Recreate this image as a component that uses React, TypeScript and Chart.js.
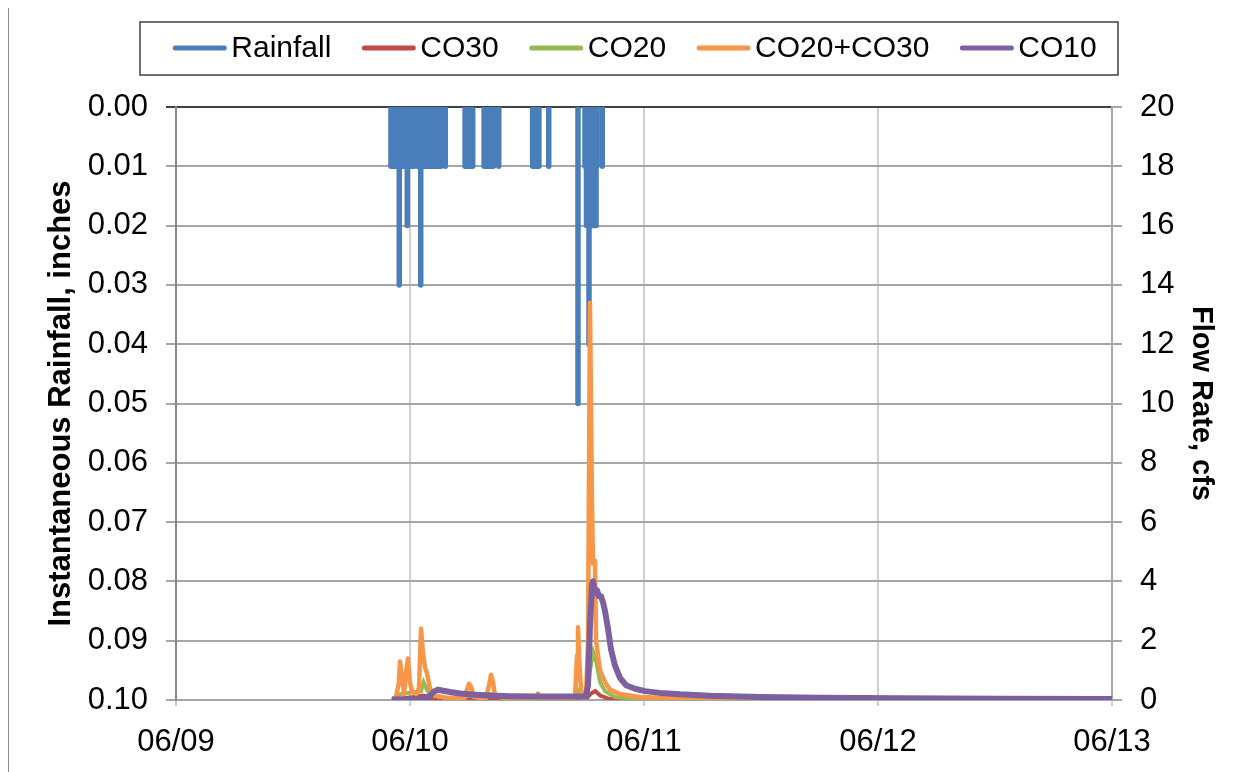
import React, { useEffect, useRef } from "react";
import { Chart, registerables } from "chart.js";

Chart.register(...registerables);

// Day tick labels, one per 24 h on the time axis (hours since 06/09 00:00)
const dayLabels = ["06/09", "06/10", "06/11", "06/12", "06/13"];

// Rain gauge readings: time (h) and depth (in)
const rainHours = [
  22.05, 22.25, 22.45, 22.65, 22.9, 23.05, 23.25, 23.45, 23.6, 23.72, 23.9, 24.1, 24.25, 24.4,
  24.75, 24.95, 25.1, 25.3, 25.5, 25.7, 25.9, 26.1, 26.3, 26.5, 26.7, 26.9, 27.05, 27.18,
  27.62,
  29.65, 29.85, 30.05, 30.25, 30.43,
  31.6, 31.8, 32.0, 32.2, 32.4, 32.55,
  33.1,
  36.58, 36.8, 37.0, 37.22,
  38.23,
  41.23,
  41.95, 42.1, 42.25, 42.36, 42.5, 42.65, 42.8, 42.95, 43.08, 43.15,
  43.72,
];
const rainInches = [
  0.01, 0.01, 0.01, 0.01, 0.03, 0.01, 0.01, 0.01, 0.01, 0.02, 0.01, 0.01, 0.01, 0.01,
  0.01, 0.01, 0.03, 0.01, 0.01, 0.01, 0.01, 0.01, 0.01, 0.01, 0.01, 0.01, 0.01, 0.01,
  0.01,
  0.01, 0.01, 0.01, 0.01, 0.01,
  0.01, 0.01, 0.01, 0.01, 0.01, 0.01,
  0.01,
  0.01, 0.01, 0.01, 0.01,
  0.01,
  0.05,
  0.01, 0.02, 0.02, 0.04, 0.02, 0.02, 0.02, 0.02, 0.02, 0.01,
  0.01,
];

// Outfall flows (cfs)
const co30Hours = [22.15, 25.4, 26.5, 42.0, 42.5, 43.0, 43.5, 44.5, 96];
const co30Flow = [0, 0.15, 0.03, 0, 0.2, 0.3, 0.15, 0.03, 0];

const co20Hours = [22.15, 23.0, 25.13, 25.4, 25.8, 26.5, 28.0, 30.0, 32.3, 34.0, 40.9, 41.2, 41.5, 42.0, 42.46, 42.8, 43.1, 43.5, 44.0, 45.0, 48.0, 96];
const co20Flow = [0, 0.2, 0.3, 0.6, 0.3, 0.15, 0.05, 0.15, 0.2, 0.02, 0.02, 0.3, 0.05, 0.05, 1.0, 1.6, 1.3, 0.6, 0.3, 0.1, 0.03, 0];

const co2030Hours = [
  22.15, 22.56, 22.87, 22.97, 23.18, 23.38, 23.59, 23.79, 24.0, 24.21,
  24.62, 24.92, 25.13, 25.33, 25.54, 25.74, 26.05, 26.46, 27.59, 29.64,
  29.85, 30.05, 30.26, 30.56, 31.79, 32.1, 32.31, 32.51, 32.72, 34.26,
  36.92, 37.13, 37.33, 39.38, 40.92, 41.13, 41.23, 41.44, 41.64, 42.05,
  42.26, 42.46, 42.67, 42.77, 42.97, 43.08, 43.49, 44.0, 44.51, 45.54,
  47.59, 50.67, 54.36, 96,
];
const co2030Flow = [
  0, 0.1, 0.6, 1.3, 0.8, 0.2, 0.9, 1.4, 0.6, 0.3,
  0.2, 0.4, 2.4, 1.6, 1.1, 0.9, 0.4, 0.15, 0.08, 0.08,
  0.35, 0.55, 0.45, 0.1, 0.05, 0.5, 0.85, 0.6, 0.15, 0.02,
  0.05, 0.22, 0.05, 0.03, 0.05, 1.5, 2.45, 0.8, 0.1, 0.15,
  2.0, 13.4, 6.5, 4.6, 4.7, 2.0, 1.0, 0.6, 0.35, 0.2,
  0.1, 0.07, 0.05, 0,
];

const co10Hours = [
  22.15, 25.54, 26.05, 26.46, 26.87, 27.28, 28.1, 29.13, 30.67, 32.2,
  34.26, 37.33, 40.41, 42.05, 42.26, 42.46, 42.67, 42.77, 42.97, 43.18,
  43.38, 43.59, 43.79, 44.0, 44.31, 44.62, 45.03, 45.54, 46.15, 47.08,
  48.1, 49.64, 51.69, 54.77, 59.9, 66.05, 74.26, 84.5, 96,
];
const co10Flow = [
  0.02, 0.03, 0.15, 0.28, 0.35, 0.32, 0.27, 0.22, 0.18, 0.15,
  0.13, 0.12, 0.12, 0.12, 0.5, 2.5, 3.9, 4.0, 3.6, 3.7,
  3.5, 3.5, 3.3, 3.0, 2.4, 1.7, 1.15, 0.75, 0.5, 0.38,
  0.3, 0.24, 0.19, 0.14, 0.1, 0.08, 0.06, 0.04, 0.03,
];

const FONT = "'Liberation Sans', Arial, sans-serif";

const pairs = (xs: number[], ys: number[]) => xs.map((x, i) => ({ x, y: ys[i] }));

// Each rain reading is drawn as a drop from the 0.00 line down to its depth
const rainSpikes = () => {
  const pts: { x: number; y: number | null }[] = [];
  rainHours.forEach((h, i) => {
    pts.push({ x: h, y: 0 }, { x: h, y: rainInches[i] }, { x: h, y: 0 }, { x: h, y: null });
  });
  return pts;
};

// Boxed legend row above the plot
const boxedLegend = {
  id: "boxedLegend",
  afterDraw(chart: any) {
    const ctx = chart.ctx;
    const box = { left: 132, right: 1110, top: 14, bottom: 67 };
    const cy = 40;
    const lineLen = 53;
    const textGap = 5;
    const itemGap = 31;
    ctx.save();
    ctx.font = `30px ${FONT}`;
    const items = chart.data.datasets.map((ds: any) => ({
      label: ds.label,
      color: ds.borderColor,
      w: ctx.measureText(ds.label).width,
    }));
    const total =
      items.reduce((s: number, it: any) => s + lineLen + textGap + it.w, 0) + itemGap * (items.length - 1);
    ctx.fillStyle = "#fff";
    ctx.fillRect(box.left, box.top, box.right - box.left, box.bottom - box.top);
    ctx.strokeStyle = "#404040";
    ctx.lineWidth = 1.5;
    ctx.strokeRect(box.left, box.top, box.right - box.left, box.bottom - box.top);
    let x = (box.left + box.right) / 2 + 6 - total / 2;
    items.forEach((it: any) => {
      ctx.strokeStyle = it.color;
      ctx.lineWidth = 5;
      ctx.lineCap = "round";
      ctx.beginPath();
      ctx.moveTo(x + 2, cy);
      ctx.lineTo(x + lineLen - 2, cy);
      ctx.stroke();
      ctx.fillStyle = "#000";
      ctx.textBaseline = "middle";
      ctx.textAlign = "left";
      ctx.fillText(it.label, x + lineLen + textGap, cy + 1);
      x += lineLen + textGap + it.w + itemGap;
    });
    ctx.restore();
  },
};

// Left edge of the chart frame
const frame = {
  id: "frame",
  afterDraw(chart: any) {
    const ctx = chart.ctx;
    ctx.save();
    ctx.strokeStyle = "#8c8c8c";
    ctx.lineWidth = 1;
    ctx.beginPath();
    ctx.moveTo(0.5, 0);
    ctx.lineTo(0.5, chart.height);
    ctx.stroke();
    ctx.restore();
  },
};

export default function App() {
  const ref = useRef<HTMLCanvasElement>(null);

  useEffect(() => {
    if (!ref.current) return;
    const chart = new Chart(ref.current, {
      type: "line",
      data: {
        datasets: [
          {
            label: "Rainfall",
            data: rainSpikes(),
            yAxisID: "y",
            borderColor: "#4a7ebb",
            borderWidth: 5.5,
            borderJoinStyle: "round",
            borderCapStyle: "round",
            pointRadius: 0,
            spanGaps: false,
            order: 4,
          },
          {
            label: "CO30",
            data: pairs(co30Hours, co30Flow),
            yAxisID: "y1",
            borderColor: "#be4b48",
            borderWidth: 4,
            pointRadius: 0,
            order: 3,
          },
          {
            label: "CO20",
            data: pairs(co20Hours, co20Flow),
            yAxisID: "y1",
            borderColor: "#98b954",
            borderWidth: 4,
            pointRadius: 0,
            order: 2,
          },
          {
            label: "CO20+CO30",
            data: pairs(co2030Hours, co2030Flow),
            yAxisID: "y1",
            borderColor: "#f79646",
            borderWidth: 4.5,
            borderJoinStyle: "round",
            pointRadius: 0,
            order: 1,
          },
          {
            label: "CO10",
            data: pairs(co10Hours, co10Flow),
            yAxisID: "y1",
            borderColor: "#7d60a0",
            borderWidth: 6,
            borderJoinStyle: "round",
            pointRadius: 0,
            order: 0,
          },
        ],
      },
      options: {
        animation: false,
        responsive: false,
        layout: { padding: { top: 99, left: 0, right: 0, bottom: 0 } },
        plugins: {
          legend: { display: false },
          tooltip: { enabled: false },
        },
        scales: {
          x: {
            type: "linear",
            min: 0,
            max: 96,
            afterFit: (s: any) => {
              s.height = 72;
            },
            ticks: {
              stepSize: 24,
              color: "#000",
              font: { family: FONT, size: 31 },
              padding: 18,
              maxRotation: 0,
              callback: (v: any) => dayLabels[Math.round(Number(v) / 24)],
            },
            grid: { color: "#d0d0d0", lineWidth: 2, tickLength: 6 },
            border: { color: "#a6a6a6", width: 2 },
          },
          y: {
            position: "left",
            reverse: true,
            min: 0,
            max: 0.1,
            afterFit: (s: any) => {
              s.width = 168;
            },
            ticks: {
              stepSize: 0.01,
              color: "#000",
              font: { family: FONT, size: 31 },
              padding: 18,
              callback: (v: any) => Number(v).toFixed(2),
            },
            grid: {
              color: (c: any) => (c.tick && c.tick.value === 0 ? "#404040" : "#a6a6a6"),
              lineWidth: 2,
              tickLength: 10,
            },
            border: { color: "#868686", width: 2 },
            title: {
              display: true,
              text: "Instantaneous Rainfall, inches",
              color: "#000",
              font: { family: FONT, size: 31, weight: "bold" },
              padding: { top: 35, bottom: 0 },
            },
          },
          y1: {
            position: "right",
            min: 0,
            max: 20,
            afterFit: (s: any) => {
              s.width = 129;
            },
            ticks: {
              stepSize: 2,
              color: "#000",
              font: { family: FONT, size: 31 },
              padding: 18,
            },
            grid: { drawOnChartArea: false, color: "#a6a6a6", lineWidth: 2, tickLength: 10 },
            border: { color: "#a6a6a6", width: 2 },
            title: {
              display: true,
              text: "Flow Rate, cfs",
              color: "#000",
              font: { family: FONT, size: 29, weight: "bold" },
              padding: { top: 23, bottom: 0 },
            },
          },
        },
      },
      plugins: [boxedLegend, frame],
    });
    return () => chart.destroy();
  }, []);

  return <canvas ref={ref} width={1233} height={764} style={{ display: "block" }} />;
}
